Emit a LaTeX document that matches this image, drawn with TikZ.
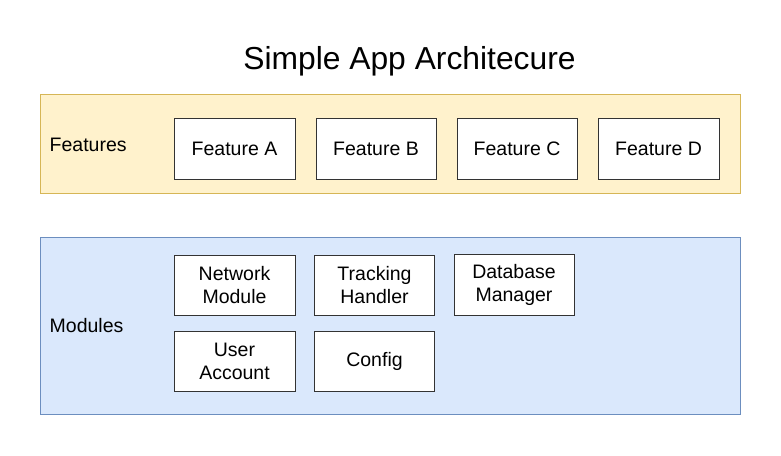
\documentclass[tikz,border=0pt]{standalone}
\usepackage{fontspec}
\setmainfont{Liberation Sans}
\definecolor{featfill}{HTML}{FFF2CC}
\definecolor{featline}{HTML}{D6B656}
\definecolor{modfill}{HTML}{DAE8FC}
\definecolor{modline}{HTML}{6C8EBF}
\begin{document}
\begin{tikzpicture}[x=1pt,y=-1pt,
  band/.style={draw, line width=1pt, inner sep=0pt, minimum width=700.5pt},
  itembox/.style={draw=black!80, fill=white, line width=1pt, inner sep=0pt,
    minimum height=61pt, align=center, font=\fontsize{19.5}{23}\selectfont},
  bandlabel/.style={anchor=west, inner sep=0pt, font=\fontsize{19.5}{23}\selectfont},
  titletext/.style={anchor=base, inner sep=0pt, font=\fontsize{31.8}{36}\selectfont}]
\useasboundingbox (0,0) rectangle (781,455);
\fill[white] (0,0) rectangle (781,455);
\node[titletext] (title) at (409.5,69) {Simple App Architecure};
% bands
\node[band, draw=featline, fill=featfill, minimum height=99.5pt] (featband) at (390.25,144) {};
\node[band, draw=modline, fill=modfill, minimum height=177pt] (modband) at (390.25,325.5) {};
\node[bandlabel] (featlabel) at (49.5,144.5) {Features};
\node[bandlabel] (modlabel) at (49.5,325.5) {Modules};
% feature boxes
\node[itembox, minimum width=121pt] (fa) at (234.5,148.5) {Feature A};
\node[itembox, minimum width=120pt] (fb) at (376,148.5) {Feature B};
\node[itembox, minimum width=120pt] (fc) at (517,148.5) {Feature C};
\node[itembox, minimum width=121pt] (fd) at (658.5,148.5) {Feature D};
% module boxes
\node[itembox, minimum width=121pt, minimum height=60pt] (net) at (234.5,285) {Network\\Module};
\node[itembox, minimum width=120pt, minimum height=60pt] (track) at (374.5,285) {Tracking\\Handler};
\node[itembox, minimum width=120pt, minimum height=61pt] (db) at (514,284.5) {Database\\Manager};
\node[itembox, minimum width=121pt, minimum height=60pt] (user) at (234.5,361.5) {User\\Account};
\node[itembox, minimum width=120pt, minimum height=60pt] (conf) at (374.5,361.5) {Config};
\end{tikzpicture}
\end{document}
